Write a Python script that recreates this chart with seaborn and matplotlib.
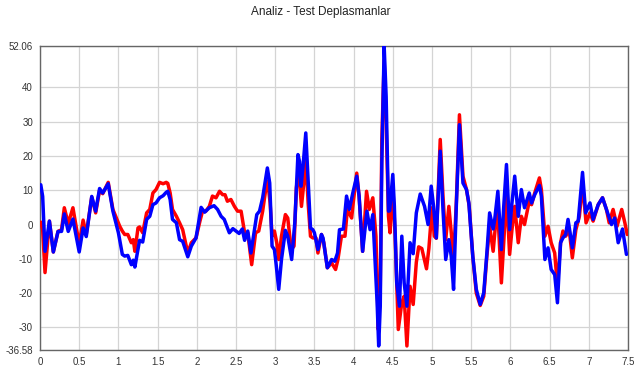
import matplotlib
matplotlib.use("Agg")
import matplotlib.pyplot as plt
from matplotlib.ticker import MultipleLocator, FixedLocator
import seaborn as sns
import pandas as pd

title = "Analiz - Test Deplasmanlar"

t_red = [0.01, 0.034, 0.064, 0.12, 0.17, 0.23, 0.275, 0.31, 0.36, 0.42, 0.50, 0.55, 0.59, 0.66, 0.71,
         0.76, 0.80, 0.87, 0.93, 0.975, 1.017, 1.05, 1.08, 1.12, 1.165, 1.19, 1.21, 1.25, 1.27, 1.31,
         1.36, 1.40, 1.44, 1.48, 1.525, 1.57, 1.61, 1.63, 1.66, 1.69, 1.74, 1.78, 1.82, 1.885, 1.93,
         1.99, 2.04, 2.073, 2.115, 2.16, 2.20, 2.245, 2.29, 2.33, 2.36, 2.39, 2.435, 2.48, 2.52, 2.565,
         2.61, 2.65, 2.70, 2.75, 2.79, 2.84, 2.885, 2.905, 2.935, 2.96, 2.99, 3.02, 3.045, 3.08, 3.13,
         3.16, 3.205, 3.24, 3.27, 3.30, 3.335, 3.365, 3.39, 3.42, 3.45, 3.48, 3.52, 3.545, 3.59, 3.62,
         3.665, 3.72, 3.77, 3.80, 3.845, 3.89, 3.92, 3.975, 3.995, 4.04, 4.07, 4.115, 4.165, 4.20, 4.245,
         4.285, 4.315, 4.34, 4.36, 4.39, 4.415, 4.445, 4.465, 4.50, 4.53, 4.57, 4.615, 4.645, 4.68, 4.72,
         4.76, 4.80, 4.83, 4.87, 4.93, 4.96, 5.0, 5.03, 5.055, 5.105, 5.14, 5.175, 5.215, 5.25, 5.275,
         5.31, 5.35, 5.395, 5.44, 5.475, 5.52, 5.565, 5.615, 5.66, 5.70, 5.735, 5.78, 5.82, 5.84, 5.885,
         5.915, 5.95, 5.99, 6.02, 6.055, 6.10, 6.14, 6.18, 6.24, 6.27, 6.31, 6.37, 6.395, 6.44, 6.48,
         6.52, 6.565, 6.60, 6.64, 6.67, 6.705, 6.75, 6.79, 6.835, 6.88, 6.92, 6.965, 7.015, 7.055, 7.12,
         7.175, 7.225, 7.26, 7.31, 7.36, 7.42, 7.46, 7.49]
d_red = [0.7, -1.5, -14.0, 1.0, -8.0, -2.0, -1.5, 4.9, 0.3, 4.9, -5.8, 1.3, -2.9, 8.0, 3.4,
         10.0, 9.0, 12.3, 4.4, 1.9, -0.5, -1.9, -2.9, -2.9, -5.3, -4.4, -7.8, -1.0, -0.7, -2.4,
         3.4, 4.4, 9.2, 10.2, 12.3, 11.9, 12.3, 12.0, 9.2, 4.4, 2.4, 0.5, -1.5, -8.3, -5.3,
         -3.9, 1.0, 3.9, 3.9, 5.3, 8.3, 7.8, 9.7, 8.7, 8.7, 6.8, 7.3, 5.3, 3.9, 3.9,
         -2.4, -2.4, -11.7, -2.4, -1.9, 3.9, 11.2, 12.6, 6.3, -3.4, -1.9, -5.3, -10.2, -3.4, 2.9,
         1.9, -7.3, -6.3, 10.7, 16.0, 5.3, 12.1, 19.9, 6.3, -3.4, -3.9, -3.9, -8.3, -2.9, -5.3,
         -12.6, -11.2, -13.1, -10.2, -3.4, -3.4, 4.4, 1.9, 6.3, 15.0, 8.3, -7.8, 9.7, 4.4, 7.8,
         -3.4, -30.6, -18.9, 24.8, 48.0, 29.6, 2.4, -2.4, 11.2, -3.4, -30.6, -22.8, -20.9, -35.4, -18.0,
         -23.3, -11.0, -6.5, -7.0, -12.9, -7.0, 4.9, -3.4, -4.0, 24.8, 8.3, -4.4, 5.3, -3.4, -10.2,
         6.3, 32.0, 14.1, 10.2, 5.3, -9.2, -20.0, -23.6, -20.9, -9.2, -0.5, -7.8, 2.4, 3.4, -17.0,
         -5.3, 9.2, -8.7, -1.5, 5.3, -5.3, 2.4, 0.0, 6.8, 5.8, 9.2, 13.6, 10.2, -3.4, -0.5,
         -5.3, -8.3, -18.0, -5.3, -1.9, -3.4, -1.5, -9.7, -1.5, 2.4, 12.1, 0.5, 3.4, 1.0, 5.8,
         7.8, 4.4, 0.5, 4.4, -0.5, 4.4, 0.5, -2.9]

t_blue = [0.01, 0.034, 0.064, 0.12, 0.17, 0.23, 0.275, 0.31, 0.36, 0.42, 0.50, 0.55, 0.59, 0.66, 0.71,
          0.76, 0.80, 0.87, 0.93, 1.00, 1.05, 1.08, 1.12, 1.165, 1.19, 1.21, 1.25, 1.27, 1.31, 1.36,
          1.40, 1.44, 1.48, 1.525, 1.57, 1.61, 1.63, 1.66, 1.69, 1.74, 1.78, 1.82, 1.885, 1.93, 1.99,
          2.055, 2.10, 2.16, 2.22, 2.265, 2.31, 2.35, 2.415, 2.46, 2.50, 2.54, 2.58, 2.61, 2.65, 2.69,
          2.735, 2.765, 2.80, 2.84, 2.90, 2.93, 2.96, 2.99, 3.01, 3.045, 3.08, 3.13, 3.16, 3.21, 3.25,
          3.29, 3.31, 3.33, 3.355, 3.39, 3.42, 3.45, 3.48, 3.50, 3.545, 3.59, 3.61, 3.665, 3.72, 3.76,
          3.795, 3.82, 3.87, 3.91, 3.945, 3.99, 4.04, 4.07, 4.115, 4.17, 4.21, 4.245, 4.275, 4.30, 4.32,
          4.34, 4.36, 4.39, 4.415, 4.445, 4.46, 4.50, 4.52, 4.55, 4.585, 4.615, 4.645, 4.68, 4.72, 4.76,
          4.80, 4.85, 4.905, 4.95, 4.99, 5.02, 5.055, 5.105, 5.14, 5.175, 5.215, 5.245, 5.275, 5.31, 5.35,
          5.395, 5.44, 5.47, 5.52, 5.565, 5.615, 5.66, 5.70, 5.735, 5.78, 5.80, 5.84, 5.885, 5.915, 5.95,
          5.99, 6.02, 6.055, 6.10, 6.14, 6.18, 6.24, 6.27, 6.31, 6.37, 6.395, 6.44, 6.48, 6.52, 6.565,
          6.60, 6.64, 6.67, 6.705, 6.735, 6.79, 6.835, 6.865, 6.92, 6.96, 7.015, 7.055, 7.12, 7.175, 7.225,
          7.29, 7.33, 7.375, 7.43, 7.48]
d_blue = [11.6, 8.2, -7.8, 1.0, -8.0, -2.0, -2.0, 3.1, -2.0, 1.6, -8.0, -1.0, -3.5, 8.2, 3.9,
          10.5, 9.2, 11.9, 3.9, -2.4, -8.7, -9.2, -9.0, -11.7, -10.4, -12.4, -7.3, -4.6, -5.1, 1.5,
          2.4, 5.8, 6.3, 7.8, 8.4, 9.4, 9.7, 7.3, 1.5, 0.5, -4.4, -4.9, -9.4, -6.3, -3.9,
          5.0, 3.6, 4.9, 5.5, 4.4, 2.4, 1.5, -2.4, -1.2, -1.9, -2.6, -1.3, -4.6, -1.9, -8.3,
          -1.5, 2.9, 3.9, 7.8, 16.5, 12.1, -6.3, -7.3, -11.2, -18.9, -10.2, -1.7, -3.4, -10.2, 0.5,
          20.4, 18.4, 11.2, 17.0, 26.7, 13.1, -1.0, -1.5, -2.4, -7.3, -2.9, -3.9, -12.6, -10.2, -10.7,
          -8.3, -1.5, -1.3, 8.3, 4.4, 9.2, 14.1, 8.3, -7.8, 3.9, -1.5, 2.9, -11.2, -22.8, -35.4,
          -23.8, 18.0, 52.0, 37.4, 3.9, 4.0, 14.6, 5.3, -17.0, -23.8, -3.4, -17.0, -23.8, -5.3, -8.5,
          3.4, 8.9, 5.3, 0.0, 11.2, 5.3, -3.9, 21.4, 4.4, -10.2, -4.4, -9.2, -18.9, 5.3, 29.1,
          12.1, 10.2, 6.3, -9.2, -18.9, -23.3, -19.9, -8.3, 3.4, -1.3, 1.5, 9.7, -7.3, 5.3, 17.5,
          -1.5, 6.3, 14.1, 2.4, 10.2, 4.9, 9.2, 6.3, 8.7, 11.4, 8.3, -10.2, -6.8, -13.1, -14.6,
          -22.8, -5.3, -3.9, -2.9, 1.5, -6.8, 0.5, 1.0, 15.2, 3.4, 6.3, 1.5, 5.8, 7.8, 4.4,
          0.0, 1.9, -5.3, -1.3, -8.7]

y_min, y_max = -36.58, 52.06
x_min, x_max = 0, 7.5
y_ticks = [-36.58, -30, -20, -10, 0, 10, 20, 30, 40, 52.06]
y_labels = ["-36.58", "-30", "-20", "-10", "0", "10", "20", "30", "40", "52.06"]
x_ticks = [0, 0.5, 1, 1.5, 2, 2.5, 3, 3.5, 4, 4.5, 5, 5.5, 6, 6.5, 7, 7.5]
x_labels = ["0", "0.5", "1", "1.5", "2", "2.5", "3", "3.5", "4", "4.5", "5", "5.5", "6", "6.5", "7", "7.5"]

sns.set_style("white")
plt.rcParams["font.family"] = ["Liberation Sans", "DejaVu Sans"]

fig = plt.figure(figsize=(6.42, 3.68), dpi=100)
ax = fig.add_axes([40 / 642, 18 / 368, 588 / 642, 304 / 368])

df_red = pd.DataFrame({"t": t_red, "d": d_red})
df_blue = pd.DataFrame({"t": t_blue, "d": d_blue})
sns.lineplot(data=df_red, x="t", y="d", ax=ax, color="#ff0000", lw=2.5, estimator=None, zorder=3,
             solid_joinstyle="round", solid_capstyle="round")
sns.lineplot(data=df_blue, x="t", y="d", ax=ax, color="#0000ff", lw=2.5, estimator=None, zorder=4,
             solid_joinstyle="round", solid_capstyle="round")

ax.set_xlim(x_min, x_max)
ax.set_ylim(y_min, y_max)
ax.set_xlabel("")
ax.set_ylabel("")

ax.yaxis.set_major_locator(FixedLocator(y_ticks))
ax.set_yticklabels(y_labels)
ax.yaxis.set_minor_locator(MultipleLocator(2))
ax.xaxis.set_major_locator(FixedLocator(x_ticks))
ax.set_xticklabels(x_labels)
ax.xaxis.set_minor_locator(MultipleLocator(0.1))

ax.grid(True, which="major", color="#d4d4d4", lw=0.9, zorder=0)
ax.set_axisbelow(True)
ax.tick_params(which="major", direction="inout", length=6, width=0.8, color="#555555",
               labelsize=7, labelcolor="#333333", pad=2)
ax.tick_params(which="minor", direction="in", length=3, width=0.7, color="#555555")
for s in ax.spines.values():
    s.set_color("#666666")
    s.set_linewidth(1.0)

fig.text(0.5, 1 - 12 / 368, title, ha="center", va="center", fontsize=8.5, color="#222222")

fig.savefig("out.png", dpi=100)
